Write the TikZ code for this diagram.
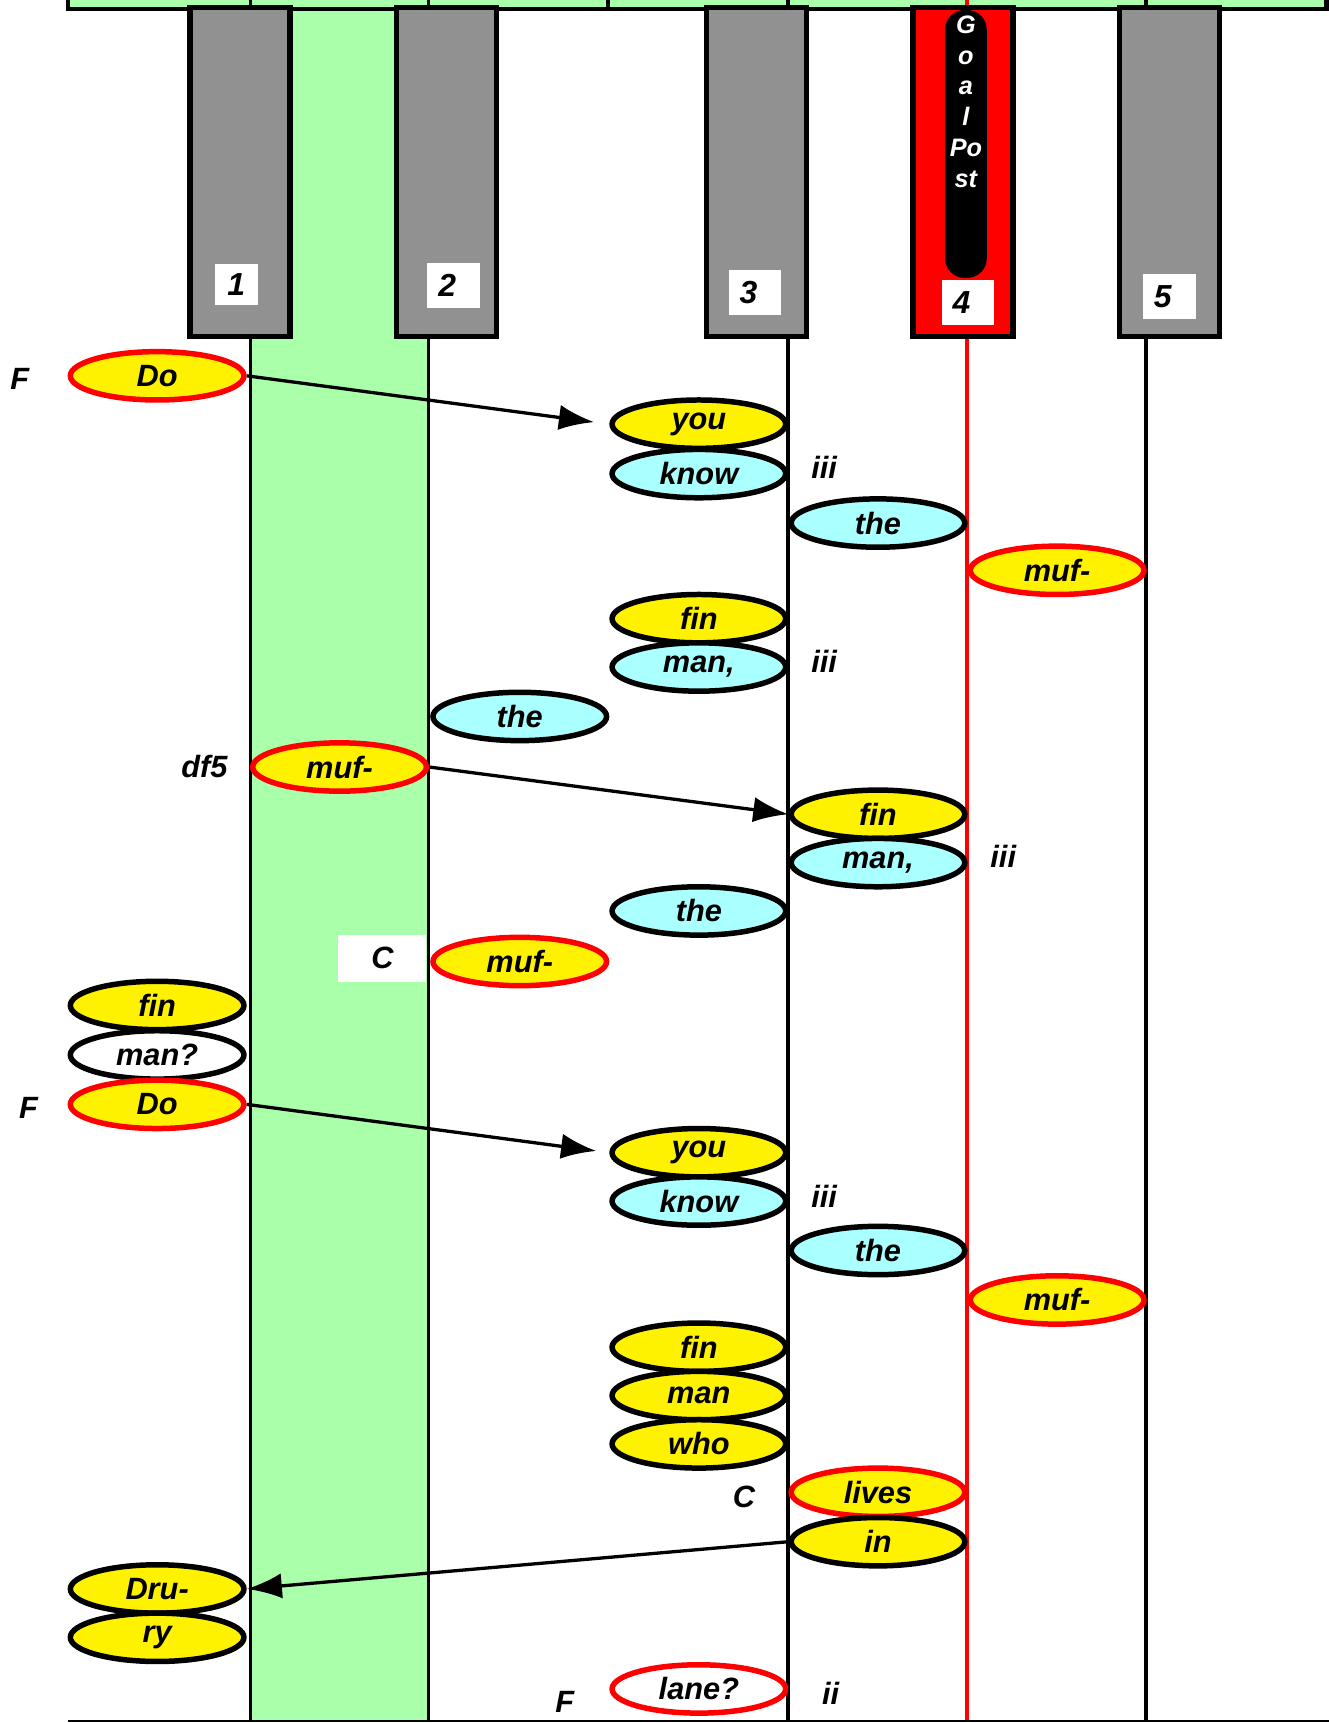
\documentclass[tikz,border=0pt]{standalone}
\usepackage{fontspec}
\setmainfont{Liberation Sans}
\usetikzlibrary{shapes.geometric,arrows.meta}
\definecolor{keygrey}{HTML}{919191}
\definecolor{lawn}{HTML}{AAFFAA}
\definecolor{pale}{HTML}{AAFFFF}
\tikzset{
  word/.style={ellipse, draw, line width=5pt, minimum width=158pt, minimum height=44pt, inner sep=0pt, font=\fontsize{28}{28}\selectfont\bfseries\itshape},
  yel/.style={word, fill=yellow},
  cya/.style={word, fill=pale},
  rim/.style={draw=red},
  note/.style={font=\fontsize{28}{28}\selectfont\bfseries\itshape},
  pkey/.style={draw, line width=5pt, fill=keygrey},
  numbox/.style={fill=white, inner sep=0pt, minimum width=48pt, minimum height=41pt, font=\fontsize{29}{29}\selectfont\bfseries\itshape},
}
\begin{document}
\begin{tikzpicture}[x=1pt, y=-1pt, >={Latex[length=32pt,width=23pt]}]
\useasboundingbox (0,0) rectangle (1209,1568);
% green strip, bar and lines
\fill[lawn] (228,0) rectangle (390,1566);
\draw[line width=4pt, fill=lawn] (62,-10) rectangle (1207,8);
\foreach \x in {228,390,717,1043}
  \draw[line width=3.5pt] (\x,0)--(\x,1566);
\draw[line width=3.5pt] (553,0)--(553,8);
\draw[red, line width=3.2pt] (880,0)--(880,1566);
\draw[line width=2pt] (62,1566)--(1209,1566);
% keys
\draw[pkey] (173,7) rectangle (264,306);
\draw[pkey] (361,7) rectangle (452,306);
\draw[pkey] (643,7) rectangle (734,306);
\draw[pkey, fill=red] (831,7) rectangle (922,306);
\draw[pkey] (1019,7) rectangle (1110,306);
\fill[rounded corners=18pt] (860,9) rectangle (898,253);
\node[white, anchor=north, align=center, inner sep=0pt, font=\fontsize{23}{28}\selectfont\bfseries\itshape] (goal) at (879,14) {G\\o\\a\\l\\Po\\st};
\node[numbox, minimum width=39pt, minimum height=38pt] (n1) at (215,259) {1};
\node[numbox, text width=28pt, align=left] (n2) at (413,260) {2};
\node[numbox, text width=28pt, align=left] (n3) at (687,266) {3};
\node[numbox, text width=28pt, align=left] (n4) at (881,275) {4};
\node[numbox, text width=28pt, align=left] (n5) at (1064,270) {5};
% words
\node[yel, rim] (doA) at (143,342) {Do};
\node[note] (fA) at (18,345) {F};
\node[yel] (youA) at (636,386) {you};
\node[cya] (knowA) at (636,431) {know};
\node[note] (iiiA) at (750,425) {iii};
\node[cya] (theA) at (799,476) {the};
\node[yel, rim] (mufA) at (962,519) {muf-};
\node[yel] (finA) at (636,563) {fin};
\node[cya] (manA) at (636,607) {man,};
\node[note] (iiiB) at (750,602) {iii};
\node[cya] (theB) at (473,652) {the};
\node[yel, rim] (mufB) at (309,698) {muf-};
\node[note] (dfive) at (186,698) {df5};
\node[yel] (finB) at (799,741) {fin};
\node[cya] (manB) at (799,785) {man,};
\node[note] (iiiC) at (913,779) {iii};
\node[cya] (theC) at (636,829) {the};
\node[note, fill=white, minimum width=80pt, minimum height=43pt, inner sep=0pt] (cA) at (348,872) {C};
\node[yel, rim] (mufC) at (473,875) {muf-};
\node[yel] (finC) at (143,915) {fin};
\node[word, fill=white] (manQ) at (143,960) {man?};
\node[yel, rim] (doB) at (143,1005) {Do};
\node[note] (fB) at (26,1008) {F};
\node[yel] (youB) at (636,1049) {you};
\node[cya] (knowB) at (636,1093) {know};
\node[note] (iiiD) at (750,1089) {iii};
\node[cya] (theD) at (799,1138) {the};
\node[yel, rim] (mufD) at (962,1183) {muf-};
\node[yel] (finD) at (636,1226) {fin};
\node[yel] (manD) at (636,1270) {man};
\node[yel] (who) at (636,1314) {who};
\node[note] (cB) at (677,1362) {C};
\node[yel, rim] (lives) at (799,1358) {lives};
\node[yel] (inw) at (799,1403) {in};
\node[yel] (dru) at (143,1446) {Dru-};
\node[yel] (ry) at (143,1490) {ry};
\node[word, rim, fill=white] (lane) at (636,1537) {lane?};
\node[note] (fC) at (514,1549) {F};
\node[note] (ii) at (756,1541) {ii};
% arrows
\draw[->, line width=3pt, shorten >=14pt] (doA.east)--(youA.west);
\draw[->, line width=3pt] (mufB.east)--(finB.west);
\draw[->, line width=3pt, shorten >=12pt] (doB.east)--(youB.west);
\draw[->, line width=3pt] (inw.west)--(dru.east);
\end{tikzpicture}
\end{document}
